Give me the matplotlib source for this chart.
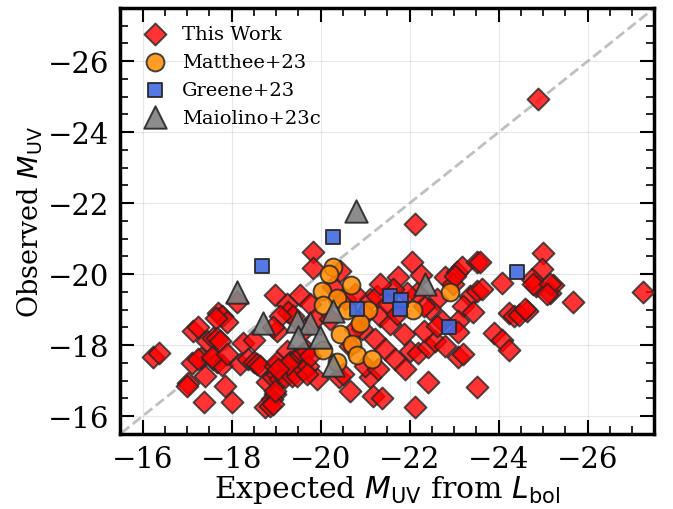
import numpy as np
import matplotlib
matplotlib.use("Agg")
import matplotlib.pyplot as plt
from matplotlib.ticker import MultipleLocator

plt.rcParams['font.family'] = 'serif'
plt.rcParams['font.serif'] = ['DejaVu Serif']

# This Work: expected M_UV (from L_bol) vs observed M_UV
work_exp = [-16.22, -16.37, -17.14, -17.25, -17.70, -17.78, -17.89, -17.65, -17.45, -17.57,
            -17.68, -17.74, -17.31, -17.10, -17.25, -17.59, -17.68, -17.78, -17.55, -17.90,
            -17.40, -17.02, -16.99, -17.85, -17.38, -18.00, -18.11, -18.26, -18.50, -18.19,
            -18.37, -18.49, -18.56, -18.64, -18.79, -18.93, -19.01, -18.97, -18.90, -18.75,
            -18.86, -18.93, -18.97, -18.97, -19.01, -19.24, -19.27, -19.38, -19.09, -19.01,
            -18.93, -19.24, -19.31, -19.42, -19.53, -19.61, -19.69, -19.09, -19.20, -19.35,
            -19.91, -18.97, -19.46, -19.61, -19.72, -19.76, -20.40, -20.51, -21.11, -20.66,
            -21.18, -21.00, -19.83, -19.83, -20.43, -20.28, -21.11, -22.04, -21.74, -22.79,
            -23.06, -23.17, -23.51, -22.98, -23.36, -23.20, -23.43, -22.61, -22.46, -22.31,
            -22.16, -21.93, -21.63, -21.26, -21.33, -22.72, -23.09, -21.56, -21.86, -22.01,
            -22.19, -22.42, -22.57, -22.31, -22.61, -23.09, -22.79, -23.09, -23.20, -21.29,
            -22.42, -22.12, -23.51, -23.89, -24.08, -24.22, -24.23, -24.34, -24.46, -24.63,
            -25.68, -25.15, -25.22, -24.84, -24.07, -27.25, -23.58, -24.99, -24.97, -24.74,
            -24.78, -25.15, -25.08, -23.51, -23.62, -24.59, -22.11, -22.25, -23.01, -24.88,
            -21.37, -19.27, -19.05, -19.69, -19.53, -19.76, -19.65, -19.87, -20.55, -20.77,
            -20.93, -21.22, -21.44, -21.67, -21.89, -20.66, -20.21, -21.33, -21.51, -21.72,
            -20.99, -20.77]
work_obs = [-17.65, -17.77, -18.40, -18.50, -18.89, -18.83, -18.64, -18.75, -18.12, -18.19,
            -18.19, -18.12, -17.63, -17.49, -17.61, -17.61, -17.51, -17.44, -17.67, -17.74,
            -17.14, -16.93, -16.84, -16.85, -16.40, -16.40, -19.20, -18.06, -18.15, -17.46,
            -17.61, -17.51, -17.46, -17.42, -16.95, -17.09, -17.18, -16.62, -16.48, -16.25,
            -16.29, -16.34, -19.41, -17.42, -17.51, -19.15, -18.92, -18.83, -18.83, -18.40,
            -18.50, -17.84, -17.51, -17.61, -17.70, -17.79, -17.84, -17.04, -17.09, -17.14,
            -17.04, -16.71, -17.14, -17.32, -17.42, -17.70, -17.09, -17.18, -17.09, -16.71,
            -16.57, -17.42, -20.61, -20.16, -20.09, -19.63, -19.30, -20.33, -19.91, -19.91,
            -20.05, -20.19, -20.33, -19.72, -19.39, -19.11, -18.92, -19.30, -19.01, -19.11,
            -19.48, -19.48, -19.58, -19.39, -18.83, -18.68, -18.68, -18.59, -18.31, -17.84,
            -17.79, -17.94, -18.12, -18.40, -18.54, -18.36, -17.98, -17.65, -17.75, -17.32,
            -16.95, -16.25, -16.81, -18.33, -18.14, -17.85, -18.90, -18.81, -18.86, -18.95,
            -19.21, -19.48, -19.69, -19.67, -19.76, -19.50, -20.35, -20.59, -20.14, -19.86,
            -19.72, -19.72, -19.44, -19.53, -19.58, -19.01, -21.42, -19.98, -19.94, -24.93,
            -16.51, -17.46, -17.32, -17.18, -19.41, -19.15, -18.45, -18.73, -19.30, -19.44,
            -18.45, -18.17, -17.89, -17.61, -17.32, -17.97, -18.73, -19.72, -19.15, -18.87,
            -18.87, -18.45]

# Matthee+23
matthee_exp = [-20.28, -20.19, -20.02, -20.68, -20.36, -20.58, -21.07, -20.06, -20.43, -20.70,
               -20.82, -21.15, -20.88, -20.04, -20.36, -22.08, -22.90]
matthee_obs = [-20.19, -20.00, -19.53, -19.69, -19.34, -18.99, -18.99, -19.13, -18.31, -18.03,
               -17.72, -17.61, -18.61, -17.86, -17.51, -18.99, -19.49]

# Greene+23
greene_exp = [-18.69, -20.27, -21.56, -21.81, -21.78, -22.88, -20.81, -24.41]
greene_obs = [-20.23, -21.04, -19.39, -19.27, -19.01, -18.51, -19.03, -20.06]

# Maiolino+23c
maiolino_exp = [-18.11, -18.70, -19.47, -19.76, -19.49, -19.98, -20.28, -20.28, -22.34, -20.79]
maiolino_obs = [-19.49, -18.63, -18.68, -18.62, -18.23, -18.23, -18.96, -17.44, -19.72, -21.77]

lims = [-15.5, -27.5]

fig = plt.figure(figsize=(6.73, 5.10), dpi=100)
ax = fig.add_axes([0.179, 0.1475, 0.7935, 0.835])

ax.plot([-15, -28], [-15, -28], ls='--', color='gray', alpha=0.5, lw=2, zorder=1)

ax.scatter(work_exp, work_obs, marker='D', s=125, color='red', edgecolor='0.15',
           lw=1.4, alpha=0.8, label='This Work', zorder=3)
ax.scatter(matthee_exp, matthee_obs, marker='o', s=165, color='#ff8c00', edgecolor='0.15',
           lw=1.4, alpha=0.85, label='Matthee+23', zorder=4)
ax.scatter(greene_exp, greene_obs, marker='s', s=95, color='royalblue', edgecolor='0.15',
           lw=1.4, alpha=0.9, label='Greene+23', zorder=5)
ax.scatter(maiolino_exp, maiolino_obs, marker='^', s=260, color='gray', edgecolor='0.15',
           lw=1.4, alpha=0.9, label='Maiolino+23c', zorder=6)

ax.set_xlim(lims)
ax.set_ylim(lims)
ax.xaxis.set_major_locator(MultipleLocator(2))
ax.yaxis.set_major_locator(MultipleLocator(2))
ax.xaxis.set_minor_locator(MultipleLocator(0.5))
ax.yaxis.set_minor_locator(MultipleLocator(0.5))
ax.tick_params(which='both', direction='in', top=True, right=True, labelsize=21)
ax.tick_params(which='major', length=10, width=1.5, pad=8)
ax.tick_params(which='minor', length=6, width=1.2)
for sp in ax.spines.values():
    sp.set_linewidth(2.5)
ax.grid(alpha=0.3)

ax.set_xlabel(r'Expected $M_{\rm UV}$ from $L_{\rm bol}$', fontsize=21.5, labelpad=0)
ax.set_ylabel(r'Observed $M_{\rm UV}$', fontsize=19.5, labelpad=2)

ax.legend(loc='upper left', frameon=False, fontsize=14, handlelength=1.8,
          handletextpad=0.45, labelspacing=0.5, borderaxespad=0.5)

fig.savefig('out.png', dpi=100)
